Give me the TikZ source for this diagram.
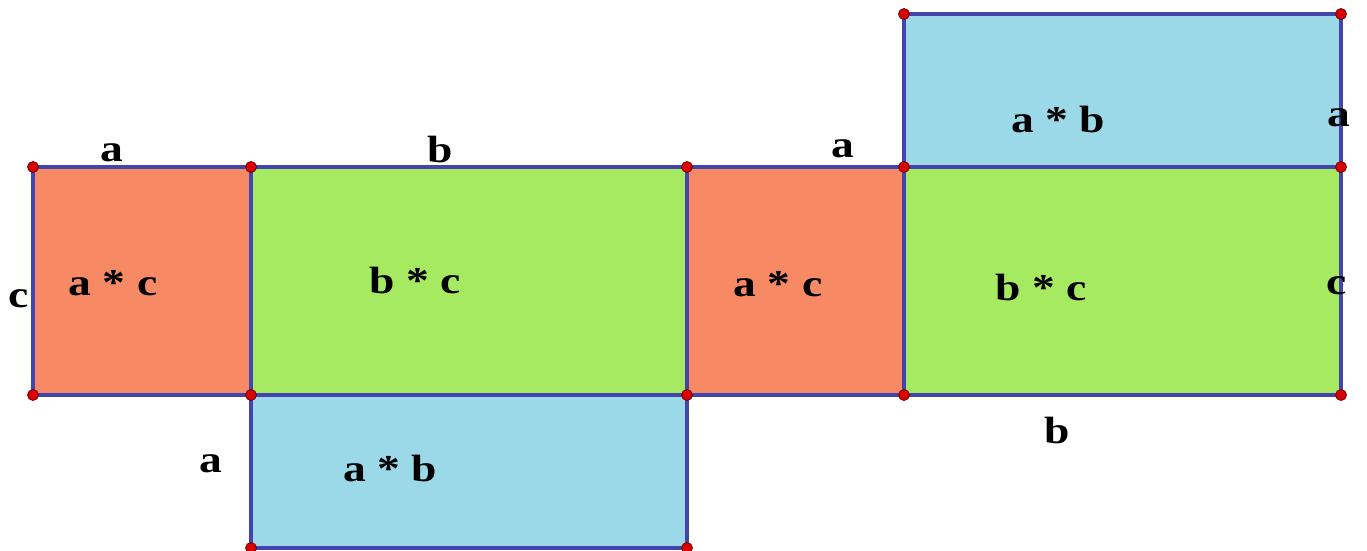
\documentclass[tikz,border=0pt]{standalone}
\usepackage{fontspec}
\setmainfont{Liberation Serif}
\newcommand{\wlab}[1]{\scalebox{1.2}[1]{#1}}
\begin{document}
\begin{tikzpicture}[x=1pt,y=-1pt,
  face/.style={draw=edgecol,line width=3.6pt},
  dot/.style={circle,fill=red!85!black,draw=red!45!black,line width=0.8pt,inner sep=0pt,minimum size=11pt},
  lbl/.style={font=\fontsize{38}{38}\selectfont\bfseries,text=black,inner sep=0pt}]
\definecolor{edgecol}{RGB}{68,68,175}
\definecolor{orangef}{RGB}{247,137,100}
\definecolor{greenf}{RGB}{166,234,98}
\definecolor{bluef}{RGB}{155,216,232}
\useasboundingbox (0,0) rectangle (1367,551);
% faces
\fill[orangef] (33,167) rectangle (251,395);
\fill[greenf] (251,167) rectangle (687,395);
\fill[orangef] (687,167) rectangle (904,395);
\fill[greenf] (904,167) rectangle (1341,395);
\fill[bluef] (904,14) rectangle (1341,167);
\fill[bluef] (251,395) rectangle (687,548);
\draw[face] (33,167) rectangle (251,395);
\draw[face] (251,167) rectangle (687,395);
\draw[face] (687,167) rectangle (904,395);
\draw[face] (904,167) rectangle (1341,395);
\draw[face] (904,14) rectangle (1341,167);
\draw[face] (251,395) rectangle (687,548);
% vertices
\foreach \p in {(33,167),(251,167),(687,167),(904,167),(1341,167),
                (33,395),(251,395),(687,395),(904,395),(1341,395),
                (904,14),(1341,14),(251,548),(687,548)}
  \node[dot] at \p {};
% labels
\node[lbl] (l1) at (113,283) {\wlab{a * c}};
\node[lbl] (l2) at (415,280) {\wlab{b * c}};
\node[lbl] (l3) at (778,284) {\wlab{a * c}};
\node[lbl] (l4) at (1041,287) {\wlab{b * c}};
\node[lbl] (l5) at (1058,120) {\wlab{a * b}};
\node[lbl] (l6) at (390,468) {\wlab{a * b}};
\node[lbl] (e1) at (112,153) {\wlab{a}};
\node[lbl] (e2) at (440,150) {\wlab{b}};
\node[lbl] (e3) at (843,149) {\wlab{a}};
\node[lbl] (e4) at (1339,118) {\wlab{a}};
\node[lbl] (e5) at (19,299) {\wlab{c}};
\node[lbl] (e6) at (1337,286) {\wlab{c}};
\node[lbl] (e7) at (1057,430) {\wlab{b}};
\node[lbl] (e8) at (211,464) {\wlab{a}};
\end{tikzpicture}
\end{document}
